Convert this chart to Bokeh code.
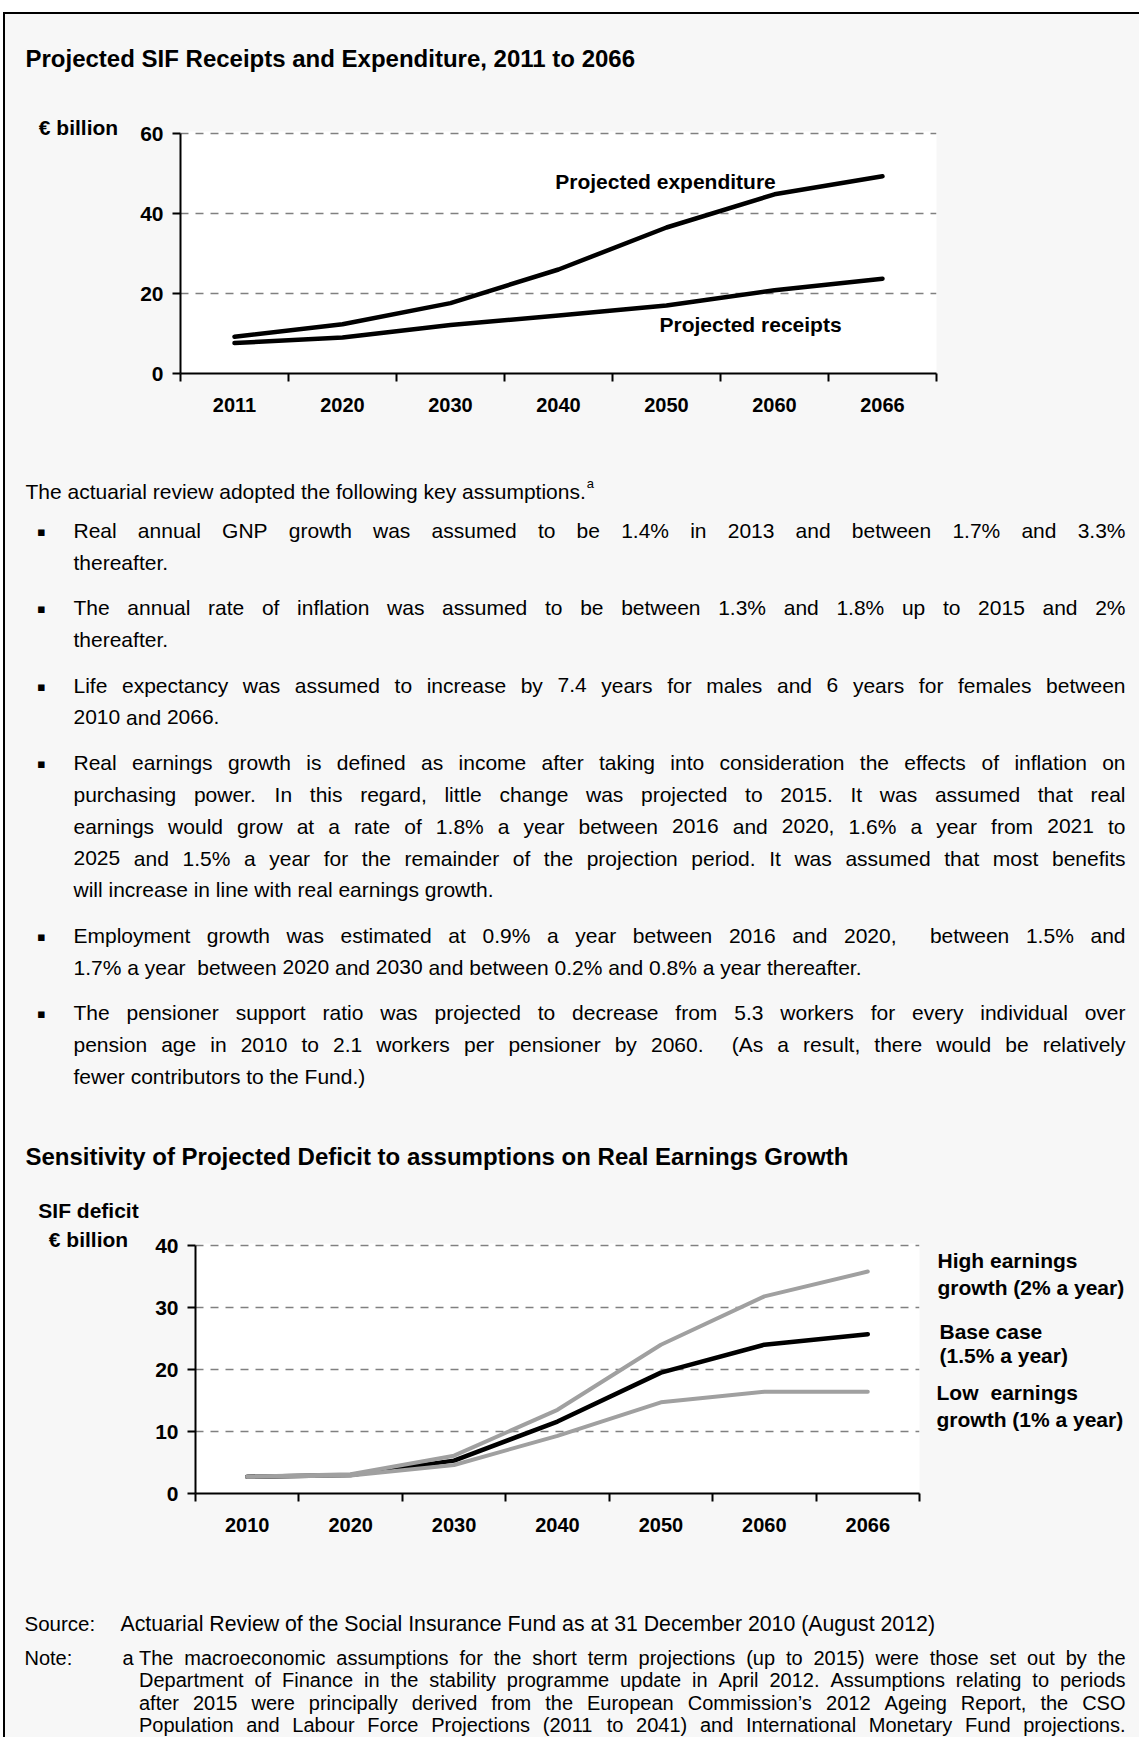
from bokeh.plotting import figure
from bokeh.models import FactorRange, Range1d, LinearAxis, FixedTicker, Grid, Label
from bokeh.layouts import column, row
from bokeh.core.properties import value
from bokeh.embed import file_html
from bokeh.resources import INLINE

# ---------------- data ----------------
years1 = ["2011", "2020", "2030", "2040", "2050", "2060", "2066"]
expenditure = [9.2, 12.3, 17.6, 26.0, 36.5, 44.8, 49.3]
receipts = [7.6, 9.0, 12.1, 14.5, 17.0, 20.8, 23.7]
y1_ticks = [0, 20, 40, 60]

years2 = ["2010", "2020", "2030", "2040", "2050", "2060", "2066"]
high_growth = [2.7, 3.1, 6.1, 13.5, 24.0, 31.8, 35.8]
base_case = [2.7, 3.0, 5.3, 11.6, 19.5, 24.0, 25.7]
low_growth = [2.7, 2.9, 4.6, 9.3, 14.7, 16.4, 16.4]
y2_ticks = [0, 10, 20, 30, 40]

title1 = "Projected SIF Receipts and Expenditure, 2011 to 2066"
title2 = "Sensitivity of Projected Deficit to assumptions on Real Earnings Growth"

intro = "The actuarial review adopted the following key assumptions."
bullets = [
    ["Real annual GNP growth was assumed to be 1.4% in 2013 and between 1.7% and 3.3%",
     "thereafter."],
    ["The annual rate of inflation was assumed to be between 1.3% and 1.8% up to 2015 and 2%",
     "thereafter."],
    ["Life expectancy was assumed to increase by 7.4 years for males and 6 years for females between",
     "2010 and 2066."],
    ["Real earnings growth is defined as income after taking into consideration the effects of inflation on",
     "purchasing power. In this regard, little change was projected to 2015. It was assumed that real",
     "earnings would grow at a rate of 1.8% a year between 2016 and 2020, 1.6% a year from 2021 to",
     "2025 and 1.5% a year for the remainder of the projection period. It was assumed that most benefits",
     "will increase in line with real earnings growth."],
    ["Employment growth was estimated at 0.9% a year between 2016 and 2020,  between 1.5% and",
     "1.7% a year  between 2020 and 2030 and between 0.2% and 0.8% a year thereafter."],
    ["The pensioner support ratio was projected to decrease from 5.3 workers for every individual over",
     "pension age in 2010 to 2.1 workers per pensioner by 2060.  (As a result, there would be relatively",
     "fewer contributors to the Fund.)"],
]
source_text = "Actuarial Review of the Social Insurance Fund as at 31 December 2010 (August 2012)"
note_lines = [
    "The macroeconomic assumptions for the short term projections (up to 2015) were those set out by the",
    "Department of Finance in the stability programme update in April 2012. Assumptions relating to periods",
    "after 2015 were principally derived from the European Commission\u2019s 2012 Ageing Report, the CSO",
    "Population and Labour Force Projections (2011 to 2041) and International Monetary Fund projections.",
]

# ---------------- styling / layout ----------------
BG = "#f7f7f7"
FONT = "Liberation Sans"
GRID = "#808080"

AW = {' ': 278, '!': 278, '"': 355, '#': 556, '$': 556, '%': 889, '&': 667, "'": 191, '(': 333, ')': 333,
      '*': 389, '+': 584, ',': 278, '-': 333, '.': 278, '/': 278, ':': 278, ';': 278, '?': 556,
      'A': 667, 'B': 667, 'C': 722, 'D': 722, 'E': 667, 'F': 611, 'G': 778, 'H': 722, 'I': 278, 'J': 500,
      'K': 667, 'L': 556, 'M': 833, 'N': 722, 'O': 778, 'P': 667, 'Q': 778, 'R': 722, 'S': 667, 'T': 611,
      'U': 722, 'V': 667, 'W': 944, 'X': 667, 'Y': 667, 'Z': 611,
      'a': 556, 'b': 556, 'c': 500, 'd': 556, 'e': 556, 'f': 278, 'g': 556, 'h': 556, 'i': 222, 'j': 222,
      'k': 500, 'l': 222, 'm': 833, 'n': 556, 'o': 556, 'p': 556, 'q': 556, 'r': 333, 's': 500, 't': 278,
      'u': 556, 'v': 500, 'w': 722, 'x': 500, 'y': 500, 'z': 500, '\u2019': 222}
for d in "0123456789":
    AW[d] = 556


def tw(s, size):
    return sum(AW.get(ch, 556) for ch in s) * size / 1000.0


def chart(rect, frame, cats, ymax, ticks):
    """frame = (left, top-of-ymax, right, bottom) in page pixels; 2px headroom kept above ymax."""
    x0, y0, w, h = rect
    fl, ft, fr, fb = frame
    head = 2
    top_val = ymax + head * ymax / (fb - ft)
    p = figure(x_range=FactorRange(*cats), y_range=Range1d(0, top_val),
               frame_width=fr - fl, frame_height=fb - ft + head,
               min_border_left=fl - x0, min_border_right=x0 + w - fr,
               min_border_top=ft - head - y0, min_border_bottom=y0 + h - fb,
               x_axis_type=None, y_axis_type=None, tools="", toolbar_location=None,
               output_backend="svg", background_fill_color="white", border_fill_color=BG,
               outline_line_color=None, frame_align=False)
    n = len(cats)
    centers = [i + 0.5 for i in range(n)]
    xax = LinearAxis(ticker=FixedTicker(ticks=centers, minor_ticks=list(range(n + 1))),
                     major_label_overrides={c: cat for c, cat in zip(centers, cats)},
                     major_tick_out=0, major_tick_in=0, minor_tick_out=8, minor_tick_in=0,
                     minor_tick_line_width=2, minor_tick_line_color="black",
                     axis_line_width=2, axis_line_color="black",
                     major_label_standoff=16, major_label_text_font=FONT,
                     major_label_text_font_style="bold", major_label_text_font_size="20px",
                     major_label_text_color="black")
    p.add_layout(xax, "below")
    yt = FixedTicker(ticks=ticks, minor_ticks=[])
    yax = LinearAxis(ticker=yt, bounds=(0, ymax), major_tick_out=8, major_tick_in=0, minor_tick_out=0,
                     major_tick_line_width=2, major_tick_line_color="black",
                     axis_line_width=2, axis_line_color="black",
                     major_label_standoff=9, major_label_text_font=FONT,
                     major_label_text_font_style="bold", major_label_text_font_size="21px",
                     major_label_text_color="black")
    p.add_layout(yax, "left")
    p.add_layout(Grid(dimension=1, ticker=yt, grid_line_color=GRID, grid_line_width=1.5,
                      grid_line_dash="8 7"))

    def conv(px, py):
        return (px - fl) * n / (fr - fl), (fb - py) * ymax / (fb - ft)
    return p, conv


def lab(p, conv, px, py, text, size, align="left", bold=True):
    x, y = conv(px, py)
    p.add_layout(Label(x=x, y=y, text=text, text_font=FONT, text_font_size="%gpx" % size,
                       text_font_style="bold" if bold else "normal", text_align=align,
                       text_baseline="middle", text_color="black"))


class TextFig:
    """A plain canvas whose data units equal page pixels."""
    def __init__(self, rect):
        x0, y0, w, h = rect
        self.p = figure(width=w, height=h, x_range=Range1d(x0, x0 + w), y_range=Range1d(y0 + h, y0),
                        x_axis_type=None, y_axis_type=None, tools="", toolbar_location=None,
                        output_backend="svg", min_border=0, outline_line_color=None,
                        background_fill_color=BG, border_fill_color=BG, frame_align=False)
        self.items = {}

    def put(self, px, py, text, size=21, font=FONT, align="left", style="normal"):
        d = self.items.setdefault((size, font, align, style), ([], [], []))
        d[0].append(px)
        d[1].append(py)
        d[2].append(text)

    def line(self, px0, px1, py, text, size=21, justify=True, style="normal"):
        words = text.split(" ")
        gap = tw(" ", size)
        if justify:
            nat = sum(tw(w, size) for w in words) + (len(words) - 1) * tw(" ", size)
            gap += (px1 - px0 - nat) / max(len(words) - 1, 1)
        x = px0
        for w in words:
            if w:
                self.put(x, py, w, size, style=style)
            x += tw(w, size) + gap

    def done(self):
        for (size, font, align, style), (xs, ys, ts) in self.items.items():
            self.p.text(x=xs, y=ys, text=ts, text_font=value(font), text_font_size=value("%gpx" % size),
                        text_font_style=style, text_align=align, text_baseline="middle",
                        text_color="black")
        return self.p


# ---------------- chart 1 ----------------
tA = TextFig((5, 14, 1134, 96))
tA.put(25, 58, title1, size=24, style="bold")
figTitleA = tA.done()

lA = TextFig((5, 110, 125, 320))
lA.put(78, 127, "\u20ac billion", size=21, align="center", style="bold")
figLeftA = lA.done()

pA, cA = chart((130, 110, 1009, 320), (180, 133, 936, 373), years1, 60, y1_ticks)
pA.line(x=years1, y=expenditure, line_width=4.5, line_color="black", line_join="round", line_cap="round")
pA.line(x=years1, y=receipts, line_width=4.5, line_color="black", line_join="round", line_cap="round")
lab(pA, cA, 665, 181, "Projected expenditure", 21, "center")
lab(pA, cA, 659, 324, "Projected receipts", 21)

# ---------------- text block ----------------
tT = TextFig((5, 430, 1134, 680))
X0, X1, XB = 73, 1125, 41
LH, PG, IG = 31.8, 45.6, 39.0
y = 491.0
tT.put(25, y, intro)
tT.put(25 + tw(intro, 21) + 1, y - 8, "a", size=13)
y += IG
for para in bullets:
    tT.put(XB, y + 1, "\u25aa", size=13, font="DejaVu Sans", align="center")
    for i, ln in enumerate(para):
        tT.line(X0, X1, y, ln, 21, justify=(i < len(para) - 1))
        if i < len(para) - 1:
            y += LH
    y += PG
figText = tT.done()

# ---------------- chart 2 ----------------
tB = TextFig((5, 1110, 1134, 115))
tB.put(25, 1156, title2, size=24, style="bold")
tB.put(88, 1210, "SIF deficit", size=21, align="center", style="bold")
figTitleB = tB.done()

lB = TextFig((5, 1225, 140, 365))
lB.put(88, 1239, "\u20ac billion", size=21, align="center", style="bold")
figLeftB = lB.done()

pB, cB = chart((145, 1225, 785, 365), (195, 1245, 919, 1493), years2, 40, y2_ticks)
pB.line(x=years2, y=base_case, line_width=4.5, line_color="black", line_join="round", line_cap="round")
pB.line(x=years2, y=low_growth, line_width=4, line_color="#a0a0a0", line_join="round", line_cap="round")
pB.line(x=years2, y=high_growth, line_width=4, line_color="#a0a0a0", line_join="round", line_cap="round")

rB = TextFig((930, 1225, 209, 365))
for (px, py, t) in [(937, 1260, "High earnings"), (937, 1287, "growth (2% a year)"),
                    (939, 1331, "Base case"), (939, 1355, "(1.5% a year)"),
                    (936, 1392, "Low"), (990, 1392, "earnings"), (936, 1419, "growth (1% a year)")]:
    rB.put(px, py, t, size=21, style="bold")
figRightB = rB.done()

# ---------------- notes ----------------
tN = TextFig((5, 1590, 1134, 147))
tN.put(24, 1623, "Source:", size=20.5)
tN.put(120, 1623, source_text, size=21.3)
tN.put(24, 1657, "Note:", size=20)
tN.put(122, 1657, "a", size=20)
ny = 1657.0
for ln in note_lines:
    tN.line(138.5, 1125, ny, ln, 20, justify=True)
    ny += 22.5
figNotes = tN.done()

layout = column(figTitleA, row(figLeftA, pA, spacing=0), figText, figTitleB,
                row(figLeftB, pB, figRightB, spacing=0), figNotes, spacing=0,
                styles={"border-left": "2px solid black", "border-top": "2px solid black",
                        "margin-left": "3px", "margin-top": "12px", "background-color": BG})

open("out.html", "w").write(file_html(layout, INLINE))
